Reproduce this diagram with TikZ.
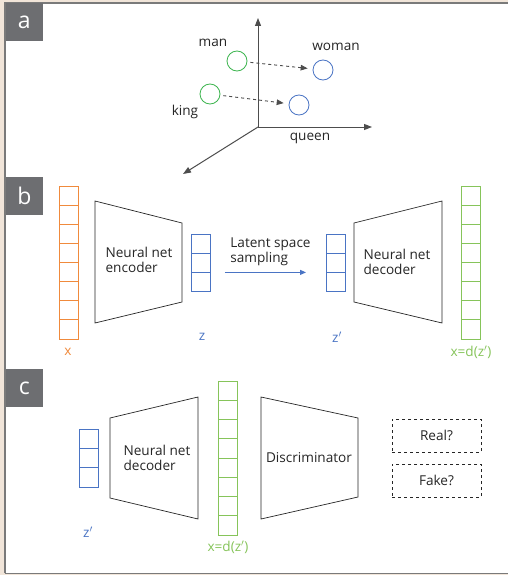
\documentclass[tikz,border=0pt]{standalone}
\usepackage{fontspec}
\setmainfont{Open Sans}
\usetikzlibrary{arrows.meta}
\definecolor{bg}{HTML}{F1E5D9}
\definecolor{framegray}{HTML}{7A7A7A}
\definecolor{labgray}{HTML}{6D6E71}
\definecolor{vorange}{HTML}{F08A3C}
\definecolor{vblue}{HTML}{4A74C4}
\definecolor{vgreen}{HTML}{86C45A}
\definecolor{cgreen}{HTML}{3DB54F}
\definecolor{axisgray}{HTML}{4D4D4D}
\definecolor{txt}{HTML}{262626}
\tikzset{
  labbox/.style={fill=labgray, text=white, minimum width=37pt, minimum height=38pt, inner sep=0pt, anchor=north west, font=\fontsize{23}{23}\selectfont},
  txtn/.style={text=txt, font=\fontsize{13.6}{15}\selectfont, inner sep=0pt, align=left},
  vec/.style={draw=#1, line width=0.8pt, minimum width=19pt, inner sep=0pt, anchor=north west},
  trap/.style={draw=txt, line width=0.7pt},
  pt/.style={circle, draw=#1, line width=0.8pt, minimum size=20pt, inner sep=0pt},
  axisarrow/.style={draw=axisgray, line width=1pt, -{Triangle[length=8pt,width=6pt]}},
  dasharrow/.style={draw=axisgray, line width=0.9pt, dashed, -{Triangle[length=7pt,width=5.5pt]}},
  outbox/.style={draw=txt, dashed, line width=0.6pt, minimum width=89pt, minimum height=33pt, inner sep=0pt, text=txt, font=\fontsize{13.6}{15}\selectfont}
}
\newcommand\cellsplit[5]{% color, x0, y0, n, cellheight
  \foreach \i in {1,...,#4}{\pgfmathsetmacro\yy{#3+\i*#5}\draw[#1, line width=0.8pt] (#2,\yy) -- ++(19,0);}}
\begin{document}
\begin{tikzpicture}[x=1pt,y=-1pt]
\useasboundingbox (0,0) rectangle (508,575);
\fill[bg] (0,0) rectangle (508,575);
\fill[white] (5,3) rectangle (508,574);
\draw[framegray, line width=1.2pt] (5,573.4) -- (5,3) -- (508,3);
\draw[framegray, line width=1.6pt] (5,573.4) -- (508,573.4);

% panel labels
\node[labbox] (la) at (5.6,3) {a};
\node[labbox] (lb) at (5.6,177) {b};
\node[labbox] (lc) at (5.6,369) {c};

% ---- panel a ----
\coordinate (o) at (258,127);
\coordinate (yt) at (258,18);
\coordinate (xt) at (372,127);
\coordinate (zt) at (183,174);
\draw[axisarrow] (o) -- (yt);
\draw[axisarrow] (o) -- (xt);
\draw[axisarrow] (o) -- (zt);
\node[pt=cgreen] (man) at (237,61) {};
\node[pt=cgreen] (king) at (210,94) {};
\node[pt=vblue] (woman) at (323,70) {};
\node[pt=vblue] (queen) at (299,105) {};
\draw[dasharrow, shorten <=3pt, shorten >=5pt] (man) -- (woman);
\draw[dasharrow, shorten <=3pt, shorten >=5pt] (king) -- (queen);
\node[txtn] (tman) at (213,43) {man};
\node[txtn] (twoman) at (336,47) {woman};
\node[txtn] (tking) at (185,112) {king};
\node[txtn] (tqueen) at (310,138) {queen};

% ---- panel b ----
\node[vec=vorange, minimum height=153pt] (xv) at (59,186) {};
\cellsplit{vorange}{59}{186}{7}{19.125}
\node[txtn, text=vorange] (xl) at (68,352) {x};

\draw[trap] (95,201) -- (182,223) -- (182,302) -- (95,323) -- cycle;
\node[txtn] (enc) at (139,260) {Neural net\\encoder};

\node[vec=vblue, minimum height=57pt] (zv) at (191,234) {};
\cellsplit{vblue}{191}{234}{2}{19}
\node[txtn, text=vblue] (zl) at (202,337) {z};

\node[txtn] (lat) at (270.5,252) {Latent space\\sampling};
\node[vec=vblue, minimum height=57pt] (zpv) at (326,234) {};
\cellsplit{vblue}{326}{234}{2}{19}
\node[txtn, text=vblue] (zpl) at (337,337) {z$'$};
\draw[vblue, line width=0.9pt, -{Triangle[length=6pt,width=5pt]}] ([xshift=14pt,yshift=-9.5pt]zv.east) -- ([xshift=-20pt,yshift=-9.5pt]zpv.west);

\draw[trap] (354,223) -- (442,201) -- (442,323) -- (354,302) -- cycle;
\node[txtn] (dec1) at (397,262) {Neural net\\decoder};

\node[vec=vgreen, minimum height=153pt] (xdv) at (461,186) {};
\cellsplit{vgreen}{461}{186}{7}{19.125}
\node[txtn, text=vgreen] (xdl) at (471,352) {x=d(z$'$)};

% ---- panel c ----
\node[vec=vblue, minimum height=58pt] (zc) at (79,429) {};
\cellsplit{vblue}{79}{429}{2}{19.33}
\node[txtn, text=vblue] (zcl) at (88,532) {z$'$};

\draw[trap] (110,418) -- (198,397) -- (198,519) -- (110,498) -- cycle;
\node[txtn] (dec2) at (157,458) {Neural net\\decoder};

\node[vec=vgreen, minimum height=154pt] (xc) at (218,381) {};
\cellsplit{vgreen}{218}{381}{7}{19.25}
\node[txtn, text=vgreen] (xcl) at (228,547) {x=d(z$'$)};

\draw[trap] (261,397) -- (358,418) -- (358,497) -- (261,519) -- cycle;
\node[txtn] (disc) at (309,458) {Discriminator};

\node[outbox] (real) at (436.5,435.5) {Real?};
\node[outbox] (fake) at (436.5,480.5) {Fake?};
\end{tikzpicture}
\end{document}
